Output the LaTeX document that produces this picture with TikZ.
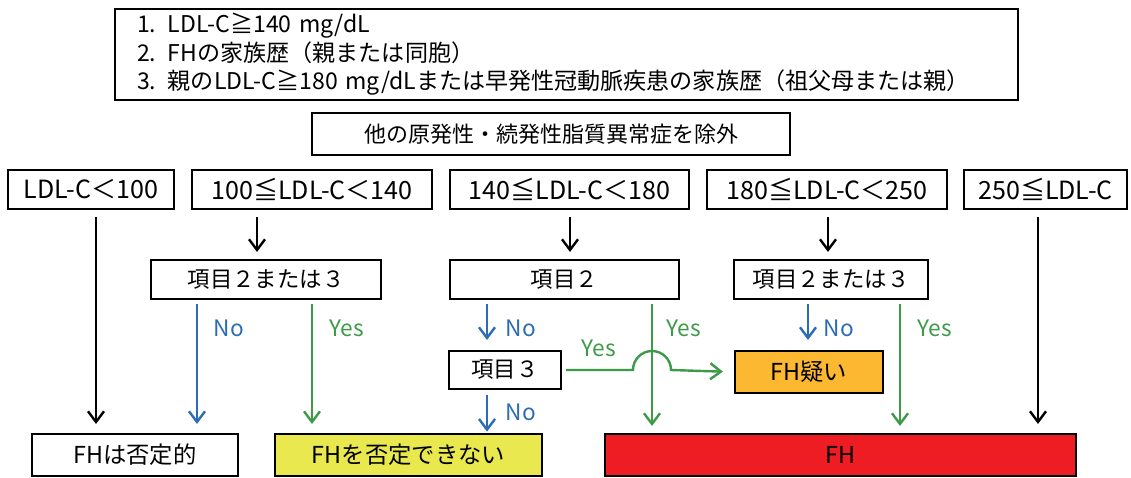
\documentclass[tikz,border=0pt]{standalone}
\usepackage{fontspec}
\setmainfont{Noto Sans CJK JP}
\usetikzlibrary{arrows.meta,calc}
\definecolor{cblue}{HTML}{2B6CB5}
\definecolor{cgreen}{HTML}{3D9A47}
\definecolor{corange}{HTML}{FCB830}
\definecolor{cyellow}{HTML}{E9E94F}
\definecolor{cred}{HTML}{EE1D24}
\newcommand\mkbox[7][]{\node[box,#1,minimum width={(#5-#3)*0.75pt},minimum height={(#6-#4)*0.75pt}] (#2) at ({(#3+#5)/2},{(#4+#6)/2}) {#7};}
\begin{document}
\begin{tikzpicture}[x=0.75pt,y=-0.75pt,
  box/.style={draw=black,line width=1.6pt,inner sep=0pt,font=\fontsize{16.8}{20}\selectfont},
  rowf/.style={font=\fontsize{18.8}{22}\selectfont},
  outf/.style={font=\fontsize{17.5}{21}\selectfont},
  arr/.style={line width=1.8pt,-{Straight Barb[length=8pt,width=12pt,line width=1.8pt]},shorten <=3pt},
  blk/.style={arr,draw=black},
  blu/.style={arr,draw=cblue},
  grn/.style={arr,draw=cgreen},
  lab/.style={font=\fontsize{17}{20}\selectfont,inner sep=0pt}
]
\useasboundingbox (0,0) rectangle (1131,478);
% top criteria box
\mkbox[align=left,text width=644pt,font=\fontsize{17.3}{21.4}\selectfont]{crit}{115}{9}{1018}{100}{1. LDL-C≧140 mg/dL\\2. FHの家族歴（親または同胞）\\3. 親のLDL-C≧180 mg/dLまたは早発性冠動脈疾患の家族歴（祖父母または親）}
\mkbox[font=\fontsize{16.5}{20}\selectfont]{excl}{312}{113}{790}{155}{他の原発性・続発性脂質異常症を除外}
% row of LDL ranges
\mkbox[rowf]{b1}{8}{170}{174}{209}{LDL-C＜100}
\mkbox[rowf]{b2}{192}{170}{432}{209}{100≦LDL-C＜140}
\mkbox[rowf]{b3}{450}{170}{689}{209}{140≦LDL-C＜180}
\mkbox[rowf]{b4}{707}{170}{947}{209}{180≦LDL-C＜250}
\mkbox[rowf]{b5}{964}{170}{1127}{209}{250≦LDL-C}
% criteria checks
\mkbox{q1}{151}{260}{381}{299}{項目２または３}
\mkbox{q2}{450}{260}{679}{299}{項目２}
\mkbox{q4}{734}{260}{928}{299}{項目２または３}
\mkbox{q3}{449}{351}{561}{389}{項目３}
\mkbox[fill=corange,outf]{fhs}{735}{351}{883}{393}{FH疑い}
% outcomes
\mkbox[outf]{neg}{32}{434}{238}{476}{FHは否定的}
\mkbox[fill=cyellow,outf]{cant}{275}{434}{542}{476}{FHを否定できない}
\mkbox[fill=cred,outf]{fh}{605}{434}{1076}{476}{FH}
% column coordinates
\coordinate (xa) at (96,0);
\coordinate (xb) at (197,0);
\coordinate (xc) at (312,0);
\coordinate (xd) at (487,0);
\coordinate (xe) at (652,0);
\coordinate (xf) at (900,0);
\coordinate (xg) at (1038,0);
\coordinate (xh) at (570,0);
\coordinate (xi) at (257,0);
\coordinate (xj) at (828,0);
\coordinate (xk) at (808,0);
% black arrows
\draw[blk,shorten <=5.25pt,shorten >=6.75pt] (b1.south -| xa) -- (neg.north -| xa);
\draw[blk,shorten <=5.25pt,shorten >=5.25pt] (b2.south -| xi) -- (q1.north -| xi);
\draw[blk,shorten <=5.25pt,shorten >=5.25pt] (b3.south -| xh) -- (q2.north -| xh);
\draw[blk,shorten <=5.25pt,shorten >=5.25pt] (b4.south -| xj) -- (q4.north -| xj);
\draw[blk,shorten <=5.25pt,shorten >=6.75pt] (b5.south -| xg) -- (fh.north -| xg);
% left block
\draw[blu,shorten >=6.75pt] (q1.south -| xb) -- (neg.north -| xb);
\draw[grn,shorten >=6.75pt] (q1.south -| xc) -- (cant.north -| xc);
\node[lab,text=cblue] (n1) at (229,328) {No};
\node[lab,text=cgreen] (y1) at (347,328) {Yes};
% middle block
\draw[blu,shorten >=7.5pt] (q2.south -| xd) -- (q3.north -| xd);
\draw[grn,shorten >=5.25pt] (q2.south -| xe) -- (fh.north -| xe);
\draw[blu,shorten <=3.75pt,shorten >=1pt] (q3.south -| xd) -- (cant.north -| xd);
\node[lab,text=cblue] (n2) at (521,328) {No};
\node[lab,text=cgreen] (y2) at (684,328) {Yes};
\node[lab,text=cblue] (n3) at (521,412) {No};
\draw[grn,shorten >=8.25pt] (q3.east) -- (633,370)
  .. controls (633,359.5) and (641.5,351) .. (652,351)
  .. controls (662.5,351) and (671,359.5) .. (671,370) -- (fhs.west);
\node[lab,text=cgreen] (y3) at (599,348) {Yes};
% right block
\draw[blu,shorten >=7.5pt] (q4.south -| xk) -- (fhs.north -| xk);
\draw[grn,shorten >=5.25pt] (q4.south -| xf) -- (fh.north -| xf);
\node[lab,text=cblue] (n4) at (839,328) {No};
\node[lab,text=cgreen] (y4) at (935,328) {Yes};
\end{tikzpicture}
\end{document}
